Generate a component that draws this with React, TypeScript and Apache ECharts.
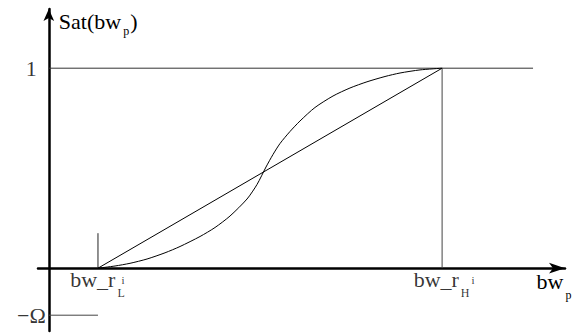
import React, { useEffect, useRef } from "react";
import * as echarts from "echarts";

// Tick labels
const xTickValues = [1, 8];
const xTickMain = ["bw_r", "bw_r"];
const xTickSubs = ["L", "H"];
const xTickSups = ["i", "i"];
const yTickValues = [1, -0.235];
const yTickLabels = ["1", "−Ω"];
const xAxisName = ["bw", "p"];
const yAxisName = ["Sat(bw", "p", ")"];

// Saturation curve (S-shaped)
const curveX = [1, 1.347, 1.652, 1.998, 2.364, 2.669, 3.076, 3.381, 3.686, 4.032, 4.235, 4.418, 4.56, 4.703, 4.906, 5.109, 5.414, 5.781, 6.126, 6.472, 6.839, 7.144, 7.551, 8];
const curveY = [0, 0.011, 0.0245, 0.046, 0.077, 0.1085, 0.1585, 0.2035, 0.261, 0.346, 0.4185, 0.506, 0.5685, 0.6235, 0.6835, 0.736, 0.8035, 0.861, 0.901, 0.932, 0.9585, 0.976, 0.9915, 1];
// Linear ramp
const linearX = [1, 8];
const linearY = [0, 1];
// Reference lines
const levelX = [0, 9.85];
const levelY = [1, 1];
const highX = [8, 8];
const highY = [0, 1];
const lowTickX = [1, 1];
const lowTickY = [0, 0.175];
const omegaX = [0, 1];
const omegaY = [-0.235, -0.235];

const pair = (xs: number[], ys: number[]) => xs.map((x, i) => [x, ys[i]]);

export default function App() {
  const ref = useRef<HTMLDivElement>(null);
  useEffect(() => {
    const chart = echarts.init(ref.current!, null, { renderer: "svg" });
    const font = "Liberation Serif";
    const main = { fontFamily: font, fontSize: 22, lineHeight: 24, verticalAlign: "top", color: "#000" };
    const sub = (padTop: number, padLeft: number) => ({
      fontFamily: font,
      fontSize: 12,
      lineHeight: 12,
      verticalAlign: "top",
      color: "#000",
      padding: [padTop, 1, 0, padLeft],
    });
    const plain = (name: string, data: number[][], color: string, width: number, extra: any = {}) => ({
      type: "line",
      name,
      data,
      symbol: "none",
      showSymbol: false,
      silent: true,
      lineStyle: { color, width },
      ...extra,
    });
    chart.setOption({
      animation: false,
      grid: { left: 38, right: 11, top: 9, bottom: 5, containLabel: false, outerBoundsMode: "none" },
      xAxis: {
        type: "value",
        min: -0.22,
        max: 10.5,
        axisLine: {
          onZero: true,
          symbol: ["none", "arrow"],
          symbolSize: [8, 16],
          lineStyle: { color: "#000", width: 2.5 },
        },
        axisTick: { show: false },
        splitLine: { show: false },
        axisLabel: { show: false },
        name: `{m|${xAxisName[0]}}{s|${xAxisName[1]}}`,
        nameLocation: "end",
        nameGap: -10.5,
        nameTextStyle: {
          align: "center",
          verticalAlign: "top",
          padding: [2.4, 0, 0, 0],
          rich: { m: main, s: sub(18.4, 2) },
        },
      },
      yAxis: {
        type: "value",
        min: -0.314,
        max: 1.296,
        axisLine: {
          onZero: true,
          symbol: ["none", "arrow"],
          symbolSize: [8, 12],
          lineStyle: { color: "#000", width: 2.5 },
        },
        axisTick: { show: false },
        splitLine: { show: false },
        axisLabel: { show: false },
        name: `{m|${yAxisName[0]}}{s|${yAxisName[1]}}{m|${yAxisName[2]}}`,
        nameLocation: "end",
        nameGap: -1.6,
        nameTextStyle: {
          align: "left",
          verticalAlign: "top",
          padding: [0, 0, 0, 10],
          rich: { m: main, s: sub(14, 2) },
        },
      },
      series: [
        plain("level", pair(levelX, levelY), "#333", 1),
        plain("high", pair(highX, highY), "#444", 1),
        plain("lowTick", pair(lowTickX, lowTickY), "#222", 1),
        plain("omega", pair(omegaX, omegaY), "#444", 1),
        plain("linear", pair(linearX, linearY), "#000", 1),
        plain("sat", pair(curveX, curveY), "#000", 1, { smooth: 0.25 }),
        {
          type: "scatter",
          name: "xTicks",
          silent: true,
          symbolSize: 0,
          data: xTickValues.map((x) => [x, 0]),
          label: {
            show: true,
            position: "bottom",
            distance: 0.5,
            formatter: (p: any) => `{m|${xTickMain[p.dataIndex]}}{s|${xTickSubs[p.dataIndex]}}`,
            rich: { m: main, s: sub(18.5, 2) },
          },
        },
        {
          type: "scatter",
          name: "yTicks",
          silent: true,
          symbolSize: 0,
          data: yTickValues.map((y) => [0, y]),
          label: {
            show: true,
            position: "left",
            distance: 3,
            formatter: (p: any) => (p.dataIndex === 0 ? `{one|${yTickLabels[0]}}` : `{om|${yTickLabels[1]}}`),
            rich: {
              one: { fontFamily: font, fontSize: 22, lineHeight: 24, color: "#000", padding: [0, 9, 0, 0] },
              om: { fontFamily: font, fontSize: 22, lineHeight: 24, color: "#000" },
            },
          },
        },
        {
          type: "scatter",
          name: "sup",
          silent: true,
          symbolSize: 0,
          data: xTickValues.map((x, i) => ({
            value: [x, 0],
            label: { offset: [i === 0 ? 25 : 31, 12] },
          })),
          label: {
            show: true,
            position: "inside",
            fontFamily: font,
            fontSize: 11,
            color: "#000",
            formatter: (p: any) => xTickSups[p.dataIndex],
          },
        },
      ],
    });
    return () => chart.dispose();
  }, []);
  return <div ref={ref} style={{ width: 576, height: 336, position: "absolute", left: 0, top: 0 }} />;
}
